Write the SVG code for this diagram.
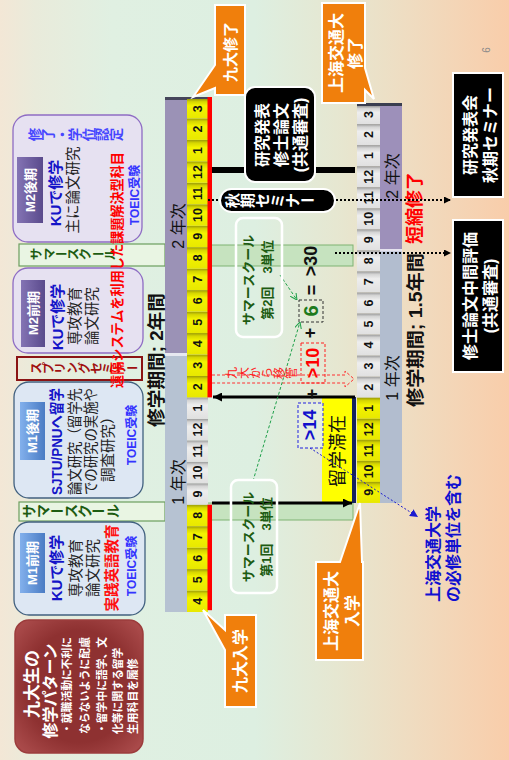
<svg xmlns="http://www.w3.org/2000/svg" width="509" height="760" viewBox="0 0 509 760">
<defs>
<linearGradient id="bg" x1="0" y1="0" x2="1" y2="0">
<stop offset="0" stop-color="#f3e7d6"/>
<stop offset="0.07" stop-color="#e9ebdb"/>
<stop offset="0.22" stop-color="#e0f0e2"/>
<stop offset="0.5" stop-color="#ddefe1"/>
<stop offset="0.66" stop-color="#e6e7d1"/>
<stop offset="0.82" stop-color="#f0dbbf"/>
<stop offset="1" stop-color="#f9cdaa"/>
</linearGradient>
<linearGradient id="cy" x1="0" y1="0" x2="0" y2="1">
<stop offset="0" stop-color="#9a9a08"/>
<stop offset="0.14" stop-color="#d6d600"/>
<stop offset="0.35" stop-color="#f4f400"/>
<stop offset="1" stop-color="#e8e800"/>
</linearGradient>
<linearGradient id="cg" x1="0" y1="0" x2="0" y2="1">
<stop offset="0" stop-color="#9a9a9a"/>
<stop offset="0.14" stop-color="#d4d4d4"/>
<stop offset="0.35" stop-color="#eeeeee"/>
<stop offset="1" stop-color="#e0e0e0"/>
</linearGradient>
<linearGradient id="bm1" x1="0" y1="0" x2="1" y2="0">
<stop offset="0" stop-color="#82b0ec"/>
<stop offset="1" stop-color="#4a7cc4"/>
</linearGradient>
<linearGradient id="bm2" x1="0" y1="0" x2="1" y2="0">
<stop offset="0" stop-color="#8474b4"/>
<stop offset="1" stop-color="#5a4a8c"/>
</linearGradient>
<radialGradient id="rb" cx="0.5" cy="0.5" r="0.7">
<stop offset="0.6" stop-color="#8e3131"/>
<stop offset="1" stop-color="#b05050"/>
</radialGradient>
<marker id="ak" viewBox="0 0 10 10" refX="10" refY="5" markerWidth="9" markerHeight="9" orient="auto" markerUnits="userSpaceOnUse"><path d="M0,0 L10,5 L0,10 z" fill="#000"/></marker>
<marker id="akd" viewBox="0 0 10 10" refX="10" refY="5" markerWidth="7" markerHeight="7" orient="auto" markerUnits="userSpaceOnUse"><path d="M0,0 L10,5 L0,10 z" fill="#000"/></marker>
<marker id="ag" viewBox="0 0 10 10" refX="10" refY="5" markerWidth="7" markerHeight="7" orient="auto" markerUnits="userSpaceOnUse"><path d="M0,0 L10,5 L0,10" fill="none" stroke="#1fa04a" stroke-width="1.5"/></marker>
<marker id="ab" viewBox="0 0 10 10" refX="10" refY="5" markerWidth="8" markerHeight="8" orient="auto" markerUnits="userSpaceOnUse"><path d="M0,0 L10,5 L0,10 z" fill="#1a1ad0"/></marker>
</defs>
<style>
text { font-family: "Liberation Sans","Noto Sans CJK JP",sans-serif; }
.b { font-weight: bold; }
.w { fill: #ffffff; }
.c { text-anchor: middle; dominant-baseline: central; }
.s { text-anchor: start; dominant-baseline: central; }
.cy { fill: url(#cy); }
.cg { fill: url(#cg); }
.n { font-size: 12.5px; font-weight: bold; fill: #111; text-anchor: middle; dominant-baseline: central; }
.m1 { fill: #dde7f3; stroke: #41607f; stroke-width: 1.3; }
.m2 { fill: #e6e1f1; stroke: #8e6cc4; stroke-width: 1.3; }
.ku { fill: #1414c8; font-weight: bold; font-size: 15px; }
.toeic { fill: #3434ff; font-weight: bold; font-size: 12px; }
.bt { fill: #222; font-size: 14.5px; }
.org { fill: #f07f0c; stroke: #ffffff; stroke-width: 2; }
.blk { fill: #000; stroke: #ffffff; stroke-width: 2; }
.sg { fill: #1d5c12; font-weight: bold; }
</style>
<rect x="0" y="0" width="509" height="760" fill="url(#bg)"/>
<text class="c" transform="translate(486,50) rotate(-90)" font-size="10" fill="#8a8a8a">6</text>

<!-- summer school bands -->
<g id="summer-band-2">
<rect x="165" y="245" width="188" height="21" fill="#c6e3bf" stroke="#7fb372" stroke-width="1"/>
<rect x="19" y="244" width="146" height="22" fill="#e9f5e3" stroke="#6c9e5e" stroke-width="1.2"/>
<text class="sg" font-size="12.5" x="41" y="260.3" rotate="-90 -90 0 -90 -90 0 -90" dx="0 0 -11 11 0 -11 11" dy="0 0 -1.5 1.5 0 -1.5 1.5">サマースクール</text>
</g>
<g id="summer-band-1">
<rect x="165" y="503" width="188" height="17" fill="#c6e3bf" stroke="#7fb372" stroke-width="1"/>
<rect x="19" y="502" width="146" height="19" fill="#e9f5e3" stroke="#6c9e5e" stroke-width="1.2"/>
<text class="sg" font-size="14" x="34.3" y="518" rotate="-90 -90 0 -90 -90 0 -90" dx="0 0 -12.3 12.3 0 -12.3 12.3" dy="0 0 -1.7 1.7 0 -1.7 1.7">サマースクール</text>
</g>

<!-- pattern box -->
<g id="pattern">
<rect x="15" y="620" width="128" height="133" rx="14" fill="url(#rb)" stroke="#9c3c3c" stroke-width="1.5"/>
<text class="c b w" font-size="17" transform="translate(32,684) rotate(-90)">九大生の</text>
<text class="c b w" font-size="16" transform="translate(50,691) rotate(-90)">修学パターン</text>
<text class="s b w" font-size="10.8" transform="translate(67,734) rotate(-90)">・就職活動に不利に</text>
<text class="s b w" font-size="10.8" transform="translate(85,734) rotate(-90)">ならないように配慮</text>
<text class="s b w" font-size="10.8" transform="translate(102,734) rotate(-90)">・留学中に語学、文</text>
<text class="s b w" font-size="10.8" transform="translate(118,734) rotate(-90)">化等に関する留学</text>
<text class="s b w" font-size="10.8" transform="translate(133,734) rotate(-90)">生用科目を履修</text>
</g>

<!-- M1 first half -->
<g id="m1-zenki">
<rect class="m1" x="14" y="522" width="131" height="93" rx="15"/>
<rect x="20" y="533" width="25" height="60" fill="url(#bm1)"/>
<text class="c b w" font-size="13" transform="translate(32.5,563) rotate(-90)">M1前期</text>
<text class="c ku" transform="translate(56,568) rotate(-90)">KUで修学</text>
<text class="c bt" transform="translate(76,568) rotate(-90)">専攻教育</text>
<text class="c bt" transform="translate(93,568) rotate(-90)">論文研究</text>
<text class="c b" font-size="14.5" fill="#ff1010" transform="translate(112,568) rotate(-90)">実践英語教育</text>
<text class="c toeic" transform="translate(132,566) rotate(-90)">TOEIC受験</text>
</g>

<!-- M1 second half -->
<g id="m1-kouki">
<rect class="m1" x="14" y="382" width="129" height="116" rx="15"/>
<rect x="20" y="402" width="25" height="58" fill="url(#bm1)"/>
<text class="c b w" font-size="13" transform="translate(32.5,431) rotate(-90)">M1後期</text>
<text class="s ku" font-size="14" transform="translate(56,495) rotate(-90)" textLength="107" lengthAdjust="spacingAndGlyphs">SJTU/PNUへ留学</text>
<text class="s bt" transform="translate(75,495) rotate(-90)" textLength="107" lengthAdjust="spacingAndGlyphs">論文研究（留学先</text>
<text class="s bt" transform="translate(91,495) rotate(-90)" textLength="107" lengthAdjust="spacingAndGlyphs">での研究の実施や</text>
<text class="s bt" transform="translate(108,482) rotate(-90)">調査研究）</text>
<text class="c toeic" transform="translate(132,435) rotate(-90)">TOEIC受験</text>
</g>

<!-- spring seminar -->
<g id="spring">
<rect x="17" y="357" width="125" height="23" fill="none" stroke="#8b1414" stroke-width="2"/>
<text class="b" font-size="12" fill="#a01010" x="40.6" y="374" rotate="-90 -90 -90 -90 -90 -90 -90 -90 0" dx="0 0 0 0 0 0 0 0 -10.6" dy="0 0 0 0 0 0 0 0 -1.4">スプリングセミナー</text>
</g>

<!-- M2 first half -->
<g id="m2-zenki">
<rect class="m2" x="13" y="268" width="130" height="85" rx="15"/>
<rect x="21" y="280" width="24" height="67" fill="url(#bm2)"/>
<text class="c b w" font-size="13" transform="translate(33,313) rotate(-90)">M2前期</text>
<text class="c ku" transform="translate(57,317) rotate(-90)">KUで修学</text>
<text class="c bt" transform="translate(75,316) rotate(-90)">専攻教育</text>
<text class="c bt" transform="translate(92,316) rotate(-90)">論文研究</text>
</g>

<!-- M2 second half -->
<g id="m2-kouki">
<rect class="m2" x="13" y="115" width="129" height="127" rx="15"/>
<text class="b" font-size="13.5" fill="#4646ff" x="39.9" y="141.3" rotate="-90">修了・学位認定</text>
<rect x="17" y="157" width="26" height="66" fill="url(#bm2)"/>
<text class="c b w" font-size="13" transform="translate(30,190) rotate(-90)">M2後期</text>
<text class="c ku" transform="translate(55,193) rotate(-90)">KUで修学</text>
<text class="c bt" transform="translate(73,190) rotate(-90)">主に論文研究</text>
<text class="c toeic" transform="translate(135,195) rotate(-90)">TOEIC受験</text>
</g>

<text id="remote" class="s b" font-size="13.5" fill="#ff0000" transform="translate(117,388) rotate(-90)" textLength="236" lengthAdjust="spacingAndGlyphs">遠隔システムを利用した課題解決型科目</text>

<!-- Kyushu timeline -->
<g id="timeline-ku">
<rect x="165" y="97" width="22" height="257.5" fill="#9b92b6"/>
<rect x="165" y="354.5" width="22" height="257.5" fill="#b6c2d2"/>
<rect x="165" y="353" width="22" height="3" fill="#e6e8f0"/>
<rect x="165" y="97" width="43" height="3" fill="#45455a"/>
<rect class="cy" x="187" y="590.5" width="21" height="21.5"/>
<rect class="cy" x="187" y="569.1" width="21" height="21.5"/>
<rect class="cy" x="187" y="547.6" width="21" height="21.5"/>
<rect class="cy" x="187" y="526.2" width="21" height="21.5"/>
<rect class="cy" x="187" y="504.7" width="21" height="21.5"/>
<rect class="cg" x="187" y="483.2" width="21" height="21.5"/>
<rect class="cg" x="187" y="461.8" width="21" height="21.5"/>
<rect class="cg" x="187" y="440.3" width="21" height="21.5"/>
<rect class="cg" x="187" y="418.9" width="21" height="21.5"/>
<rect class="cg" x="187" y="397.4" width="21" height="21.5"/>
<rect class="cy" x="187" y="375.9" width="21" height="21.5"/>
<rect class="cy" x="187" y="354.5" width="21" height="21.5"/>
<rect class="cy" x="187" y="333.0" width="21" height="21.5"/>
<rect class="cy" x="187" y="311.6" width="21" height="21.5"/>
<rect class="cy" x="187" y="290.1" width="21" height="21.5"/>
<rect class="cy" x="187" y="268.6" width="21" height="21.5"/>
<rect class="cy" x="187" y="247.2" width="21" height="21.5"/>
<rect class="cy" x="187" y="225.7" width="21" height="21.5"/>
<rect class="cy" x="187" y="204.3" width="21" height="21.5"/>
<rect class="cy" x="187" y="182.8" width="21" height="21.5"/>
<rect class="cy" x="187" y="161.3" width="21" height="21.5"/>
<rect class="cy" x="187" y="139.9" width="21" height="21.5"/>
<rect class="cy" x="187" y="118.4" width="21" height="21.5"/>
<rect class="cy" x="187" y="99.0" width="21" height="19.4"/>
<text class="n" transform="translate(197.5,601.3) rotate(-90)">4</text>
<text class="n" transform="translate(197.5,579.8) rotate(-90)">5</text>
<text class="n" transform="translate(197.5,558.3) rotate(-90)">6</text>
<text class="n" transform="translate(197.5,536.9) rotate(-90)">7</text>
<text class="n" transform="translate(197.5,515.4) rotate(-90)">8</text>
<text class="n" transform="translate(197.5,494.0) rotate(-90)">9</text>
<text class="n" transform="translate(197.5,472.5) rotate(-90)">10</text>
<text class="n" transform="translate(197.5,451.0) rotate(-90)">11</text>
<text class="n" transform="translate(197.5,429.6) rotate(-90)">12</text>
<text class="n" transform="translate(197.5,408.1) rotate(-90)">1</text>
<text class="n" transform="translate(197.5,386.7) rotate(-90)">2</text>
<text class="n" transform="translate(197.5,365.2) rotate(-90)">3</text>
<text class="n" transform="translate(197.5,343.7) rotate(-90)">4</text>
<text class="n" transform="translate(197.5,322.3) rotate(-90)">5</text>
<text class="n" transform="translate(197.5,300.8) rotate(-90)">6</text>
<text class="n" transform="translate(197.5,279.4) rotate(-90)">7</text>
<text class="n" transform="translate(197.5,257.9) rotate(-90)">8</text>
<text class="n" transform="translate(197.5,236.4) rotate(-90)">9</text>
<text class="n" transform="translate(197.5,215.0) rotate(-90)">10</text>
<text class="n" transform="translate(197.5,193.5) rotate(-90)">11</text>
<text class="n" transform="translate(197.5,172.1) rotate(-90)">12</text>
<text class="n" transform="translate(197.5,150.6) rotate(-90)">1</text>
<text class="n" transform="translate(197.5,129.1) rotate(-90)">2</text>
<text class="n" transform="translate(197.5,108.7) rotate(-90)">3</text>
<rect x="207.5" y="97" width="4.5" height="300.4" fill="#ff0000"/>
<rect x="207.5" y="504.7" width="4.5" height="105.5" fill="#ff0000"/>
<text class="c" font-size="16" fill="#111" transform="translate(178,226) rotate(-90)">2 年次</text>
<text class="c" font-size="16" fill="#111" transform="translate(178,482) rotate(-90)">1 年次</text>
<text class="c b" font-size="18" fill="#111" transform="translate(157,360) rotate(-90)" textLength="134" lengthAdjust="spacingAndGlyphs">修学期間; 2年間</text>
</g>

<!-- SJTU timeline -->
<g id="timeline-sjtu">
<rect x="380" y="103" width="22" height="147.4" fill="#9d90ba"/>
<rect x="380" y="250.4" width="22" height="252.6" fill="#b2bdcf"/>
<rect x="380" y="249" width="22" height="2.5" fill="#e4e2ee"/>
<rect x="357" y="103" width="45" height="3" fill="#3a3e50"/>
<rect class="cg" x="357" y="106" width="23" height="18.1"/>
<rect class="cg" x="357" y="124.1" width="23" height="21.05"/>
<rect class="cg" x="357" y="145.1" width="23" height="21.05"/>
<rect class="cg" x="357" y="166.2" width="23" height="21.05"/>
<rect class="cg" x="357" y="187.2" width="23" height="21.05"/>
<rect class="cg" x="357" y="208.3" width="23" height="21.05"/>
<rect class="cg" x="357" y="229.3" width="23" height="21.05"/>
<rect class="cg" x="357" y="250.4" width="23" height="21.05"/>
<rect class="cg" x="357" y="271.4" width="23" height="21.05"/>
<rect class="cg" x="357" y="292.5" width="23" height="21.05"/>
<rect class="cg" x="357" y="313.5" width="23" height="21.05"/>
<rect class="cg" x="357" y="334.6" width="23" height="21.05"/>
<rect class="cg" x="357" y="355.6" width="23" height="21.05"/>
<rect class="cg" x="357" y="376.7" width="23" height="21.05"/>
<rect class="cy" x="357" y="397.7" width="23" height="21.05"/>
<rect class="cy" x="357" y="418.8" width="23" height="21.05"/>
<rect class="cy" x="357" y="439.8" width="23" height="21.05"/>
<rect class="cy" x="357" y="460.9" width="23" height="21.05"/>
<rect class="cy" x="357" y="481.9" width="23" height="21.05"/>
<text class="n" transform="translate(368.5,114.5) rotate(-90)">3</text>
<text class="n" transform="translate(368.5,134.6) rotate(-90)">2</text>
<text class="n" transform="translate(368.5,155.6) rotate(-90)">1</text>
<text class="n" transform="translate(368.5,176.7) rotate(-90)">12</text>
<text class="n" transform="translate(368.5,197.7) rotate(-90)">11</text>
<text class="n" transform="translate(368.5,218.8) rotate(-90)">10</text>
<text class="n" transform="translate(368.5,239.8) rotate(-90)">9</text>
<text class="n" transform="translate(368.5,260.9) rotate(-90)">8</text>
<text class="n" transform="translate(368.5,281.9) rotate(-90)">7</text>
<text class="n" transform="translate(368.5,303.0) rotate(-90)">6</text>
<text class="n" transform="translate(368.5,324.0) rotate(-90)">5</text>
<text class="n" transform="translate(368.5,345.1) rotate(-90)">4</text>
<text class="n" transform="translate(368.5,366.1) rotate(-90)">3</text>
<text class="n" transform="translate(368.5,387.2) rotate(-90)">2</text>
<text class="n" transform="translate(368.5,408.2) rotate(-90)">1</text>
<text class="n" transform="translate(368.5,429.3) rotate(-90)">12</text>
<text class="n" transform="translate(368.5,450.3) rotate(-90)">11</text>
<text class="n" transform="translate(368.5,471.4) rotate(-90)">10</text>
<text class="n" transform="translate(368.5,492.4) rotate(-90)">9</text>
<text class="c" font-size="16" fill="#111" transform="translate(392,176) rotate(-90)">2 年次</text>
<text class="c" font-size="16" fill="#111" transform="translate(392,378) rotate(-90)">1 年次</text>
<text class="c b" font-size="18" fill="#111" transform="translate(416,330) rotate(-90)" textLength="154" lengthAdjust="spacingAndGlyphs">修学期間; 1.5年間</text>
<text class="c b" font-size="18" fill="#ff0000" transform="translate(415,208) rotate(-90)">短縮修了</text>
</g>

<!-- study abroad -->
<g id="ryugaku">
<rect x="322" y="397" width="32" height="106" fill="#ffff00"/>
<rect x="352" y="397" width="4" height="106" fill="#15215e"/>
<text class="c" font-size="18" fill="#111" transform="translate(338,451) rotate(-90)">留学滞在</text>
</g>

<!-- connectors -->
<g id="connectors" fill="none">
<line x1="212" y1="170" x2="355" y2="170" stroke="#000" stroke-width="6"/>
<line x1="208" y1="200" x2="451" y2="200" stroke="#000" stroke-width="2" stroke-dasharray="2 2" marker-end="url(#akd)"/>
<line x1="335" y1="253" x2="451" y2="253" stroke="#000" stroke-width="2" stroke-dasharray="2 2" marker-end="url(#akd)"/>
<line x1="355" y1="397" x2="213" y2="397" stroke="#000" stroke-width="3" marker-end="url(#ak)"/>
<line x1="212" y1="503" x2="352" y2="503" stroke="#000" stroke-width="3" marker-end="url(#ak)"/>
<path d="M212,375 H345 V371 L354,379 L345,387 V383 H212" stroke="#ff3030" stroke-width="1" stroke-dasharray="3 2"/>
<line x1="280" y1="275" x2="297" y2="300" stroke="#1fa04a" stroke-width="1" stroke-dasharray="3 2" marker-end="url(#ag)"/>
<line x1="253" y1="481" x2="300" y2="322" stroke="#1fa04a" stroke-width="1" stroke-dasharray="3 2" marker-end="url(#ag)"/>
<line x1="310" y1="448" x2="418" y2="517" stroke="#1a1ad0" stroke-width="1" stroke-dasharray="2 2" marker-end="url(#ab)"/>
</g>

<!-- credits -->
<g id="credits">
<text class="c b" font-size="18" fill="#111" transform="translate(311,261) rotate(-90)">&gt;30</text>
<text class="c b" font-size="18" fill="#111" transform="translate(312,290) rotate(-90)">=</text>
<rect x="299" y="300" width="24" height="22" fill="none" stroke="#333" stroke-width="1" stroke-dasharray="3 2"/>
<text class="c b" font-size="20" fill="#1d7a1d" transform="translate(311,311) rotate(-90)">6</text>
<text class="c b" font-size="18" fill="#111" transform="translate(310,333) rotate(-90)">+</text>
<rect x="301" y="343" width="24" height="40" fill="none" stroke="#ff2020" stroke-width="1" stroke-dasharray="3 2"/>
<text class="c b" font-size="18" fill="#ff0000" transform="translate(313,363) rotate(-90)">&gt;10</text>
<text class="c b" font-size="18" fill="#111" transform="translate(312,394) rotate(-90)">+</text>
<rect x="298" y="403" width="25" height="45" fill="#e6efe0" stroke="#2020e0" stroke-width="1" stroke-dasharray="3 2"/>
<text class="c b" font-size="18" fill="#1010cc" transform="translate(310,425) rotate(-90)">&gt;14</text>
<text font-size="12" fill="#ff2020" x="235.6" y="379" rotate="-90">九大から移管</text>
</g>

<!-- summer school boxes -->
<g id="summer-2">
<rect x="236" y="218" width="46" height="119" rx="7" fill="none" stroke="#ffffff" stroke-width="2.5"/>
<text class="c b" font-size="13" fill="#1d5c12" transform="translate(248,280) rotate(-90)">サマースクール</text>
<text class="c b" font-size="13" fill="#1d5c12" transform="translate(267,280) rotate(-90)">第2回　3単位</text>
</g>
<g id="summer-1">
<rect x="231" y="480" width="46" height="113" rx="7" fill="none" stroke="#ffffff" stroke-width="2.5"/>
<text class="c b" font-size="13" fill="#1d5c12" transform="translate(248,537) rotate(-90)">サマースクール</text>
<text class="c b" font-size="13" fill="#1d5c12" transform="translate(266,537) rotate(-90)">第1回　3単位</text>
</g>

<!-- black boxes -->
<g id="kenkyu-happyo">
<rect class="blk" x="245" y="87" width="70" height="95" rx="10"/>
<text class="c b w" font-size="16" transform="translate(262,135) rotate(-90)">研究発表</text>
<text class="c b w" font-size="16" transform="translate(281,135) rotate(-90)">修士論文</text>
<text class="c b w" font-size="16" transform="translate(300,135) rotate(-90)">(共通審査)</text>
</g>
<g id="shuki-seminar">
<rect class="blk" x="220" y="189" width="115" height="23" rx="11.5"/>
<text class="b w" font-size="15" x="238.2" y="208" rotate="-90 -90 -90 -90 -90 0" dx="0 0 0 0 0 -13.2" dy="0 0 0 0 0 -1.8">秋期セミナー</text>
</g>
<g id="happyokai">
<rect class="blk" x="453" y="73" width="50" height="124"/>
<text class="c b w" font-size="16" transform="translate(470,135) rotate(-90)">研究発表会</text>
<text class="c b w" font-size="16" transform="translate(490,135) rotate(-90)">秋期セミナー</text>
</g>
<g id="chukan">
<rect class="blk" x="453" y="220" width="50" height="152"/>
<text class="c b w" font-size="16" transform="translate(470,296) rotate(-90)">修士論文中間評価</text>
<text class="c b w" font-size="16" transform="translate(490,296) rotate(-90)">(共通審査)</text>
</g>

<!-- callouts -->
<g id="ku-shuryo">
<path class="org" d="M215,5 H245 V95 H215 V88 L193,97 L215,65 Z"/>
<text class="c b w" font-size="15" transform="translate(230,52) rotate(-90)">九大修了</text>
</g>
<g id="ku-nyugaku">
<path class="org" d="M225,615 H256 V707 H225 V650 L203,610 L225,630 Z"/>
<text class="c b w" font-size="16" transform="translate(240.5,661) rotate(-90)">九大入学</text>
</g>
<g id="sjtu-shuryo">
<path class="org" d="M322,3 H365 V68 L374,99 L365,90 V103 H322 Z"/>
<text class="c b w" font-size="16" transform="translate(336,53) rotate(-90)">上海交通大</text>
<text class="c b w" font-size="16" transform="translate(355,53) rotate(-90)">修了</text>
</g>
<g id="sjtu-nyugaku">
<path class="org" d="M316,562 H340 L360,503 L362,562 H363 V660 H316 Z"/>
<text class="c b w" font-size="16" transform="translate(331,611) rotate(-90)">上海交通大</text>
<text class="c b w" font-size="16" transform="translate(352,611) rotate(-90)">入学</text>
</g>

<g id="sjtu-note">
<text class="s b" font-size="16" fill="#1010d0" transform="translate(433,602) rotate(-90)">上海交通大学</text>
<text class="s b" font-size="16" fill="#1010d0" transform="translate(453,602) rotate(-90)">の必修単位を含む</text>
</g>
</svg>
